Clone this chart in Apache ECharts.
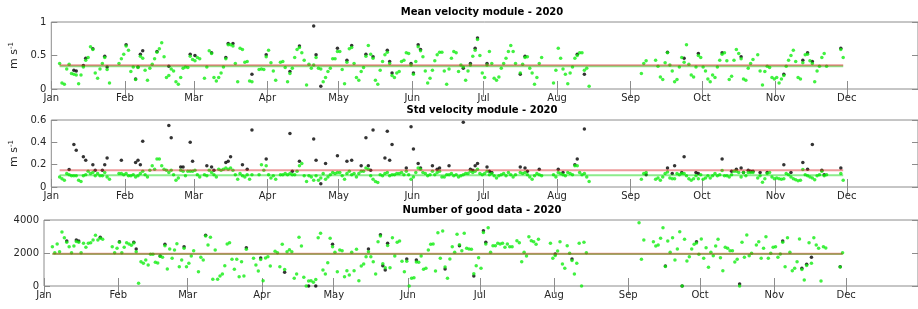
<!DOCTYPE html>
<html>
<head>
<meta charset="utf-8">
<script src="https://cdn.jsdelivr.net/npm/echarts@6/dist/echarts.min.js"></script>
<style>
  html, body { margin: 0; background: #fff; }
  #chart { width: 918px; height: 309px; }
</style>
</head>
<body>
<div id="chart"></div>
<script>
const monthNames = ['Jan', 'Feb', 'Mar', 'Apr', 'May', 'Jun', 'Jul', 'Aug', 'Sep', 'Oct', 'Nov', 'Dec']
const titles = ['Mean velocity module - 2020', 'Std velocity module - 2020', 'Number of good data - 2020']

// runs of consecutive days with data (day 0 = 1 Jan 2020)
const segments = [[3, 24], [28, 62], [64, 84], [87, 94], [96, 195], [197, 206], [211, 226], [248, 250], [254, 295], [297, 326], [332, 333]]

// good data, one value per day of the segments above
const meanGood = [
  .38, .09, .07, .30, .37, .23, .22, .21, .08, .21, .33, .43, .47, .63, .59, .24, .16, .30, .38, .47, .29, .09,
  .38, .45, .52, .64, .58, .26, .33, .14, .32, .49, .46, .28, .13, .31, .37, .45, .55, .60, .69, .48, .17, .20, .30, .27, .11, .07, .17, .31, .33, .32, .49, .44, .42, .47, .45,
  .16, .33, .57, .53, .17, .12, .17, .24, .33, .45, .66, .66, .64, .38, .11, .61, .59, .40, .41, .12, .11,
  .29, .30, .29, .48, .58, .39, .27, .13,
  .40, .41, .32, .11, .23, .31, .47, .59, .62, .54,
  .43, .06, .37, .31, .36, .47, .31, .30, .11, .17,
  .26, .31, .45, .45, .56, .56, .29, .08, .40, .60,
  .62, .38, .17, .13, .26, .32, .49, .65, .52, .46,
  .13, .07, .28, .41, .51, .55, .38, .20, .17, .24,
  .26, .41, .43, .54, .53, .36, .22, .41, .63, .57,
  .48, .27, .09, .16, .28, .42, .51, .55, .55, .27,
  .07, .30, .46, .56, .54, .26, .36, .33, .13, .27,
  .36, .49, .58, .74, .50, .24, .17, .36, .56, .38,
  .16, .13, .18, .31, .38, .46, .56, .65, .56, .38,
  .24, .37, .47, .48, .31, .24, .07, .17, .38, .47,
  .09, .28, .61, .46, .30, .22, .08, .24, .33, .46, .50, .54, .54, .28, .31, .04,
  .23, .38, .42,
  .43, .34, .18, .14, .39, .54, .36, .27, .11, .14,
  .33, .47, .40, .66, .37, .21, .18, .33, .50, .47,
  .33, .27, .15, .11, .21, .17, .33, .43, .52, .54,
  .42, .14, .19, .43, .59, .53, .45, .15, .13, .31,
  .38, .44,
  .51, .27, .06, .26, .34, .32, .17, .15, .17, .09,
  .15, .20, .34, .43, .50, .58, .41, .17, .15, .39,
  .51, .52, .42, .38, .11, .27, .34, .47, .53, .34,
  .59, .47
]
const stdGood = [
  .09, .075, .06, .12, .11, .10, .10, .10, .06, .05, .10, .11, .14, .12, .13, .10, .12, .10, .10, .13, .09, .07,
  .12, .12, .11, .12, .10, .10, .11, .09, .10, .12, .14, .11, .09, .15, .19, .16, .25, .25, .19, .16, .15, .13, .15, .11, .06, .08, .15, .14, .10, .14, .14, .14, .15, .11, .09,
  .11, .10, .15, .13, .11, .09, .16, .15, .16, .17, .16, .17, .15, .11, .07, .12, .10, .09, .11, .07, .11,
  .11, .20, .15, .19, .11, .08, .10, .07,
  .11, .11, .12, .11, .12, .11, .11, .14, .19, .21,
  .10, .05, .10, .09, .06, .10, .06, .08, .12, .07,
  .09, .11, .13, .12, .13, .13, .10, .07, .12, .14,
  .11, .12, .09, .12, .14, .14, .17, .16, .10, .07,
  .05, .04, .11, .10, .12, .13, .10, .11, .11, .12,
  .12, .13, .11, .14, .11, .07, .09, .13, .17, .16,
  .13, .12, .10, .11, .14, .11, .13, .14, .09, .09,
  .11, .11, .12, .10, .11, .09, .10, .11, .12, .12,
  .14, .13, .14, .16, .12, .11, .12, .14, .11, .12,
  .10, .08, .10, .11, .12, .10, .13, .11, .09, .11,
  .13, .12, .13, .11, .09, .07, .10, .12, .11, .10,
  .11, .09, .13, .12, .11, .10, .13, .12, .11, .19, .19, .13, .11, .12, .09, .05,
  .07, .12, .13,
  .07, .08, .06, .09, .12, .135, .08, .075, .075, .12,
  .11, .12, .12, .10, .075, .06, .075, .10, .075, .11,
  .07, .08, .10, .08, .10, .12, .10, .11, .147, .10,
  .10, .09, .11, .14, .14, .13, .09, .13, .10, .13,
  .13, .13,
  .08, .10, .042, .075, .12, .13, .09, .075, .08, .075,
  .07, .075, .12, .11, .09, .075, .066, .057, .06, .156,
  .11, .10, .09, .08, .066, .10, .11, .14, .10, .11,
  .12, .06
]
const countGood = [
  2384, 2020, 2545, 2080, 3272, 2929, 2646, 2384, 2020, 2424, 2700, 2650, 2020, 2586, 2343, 2586, 2626, 2788, 3070, 2788, 2900, 2828,
  2384, 2020, 2283, 2650, 2020, 2343, 2626, 2545, 2464, 2600, 2080, 162, 1475, 1374, 1576, 1273, 1919, 1919, 1434, 1394, 1800, 1737, 2444, 1030, 2242, 1677, 2182, 2565, 1172, 1576, 2283, 1172, 1374, 1818, 2141,
  869, 1737, 1576, 3030, 2485, 2949, 404, 2182, 404, 606, 727, 1232, 2545, 2626, 1616, 1010, 1616, 566, 1475, 606, 2222,
  1677, 1273, 909, 1600, 323, 1700, 1778, 1212,
  2100, 2020, 1172, 2525, 1000, 2080, 2200, 2080, 465, 727,
  2949, 2424, 525, 0, 300, 323, 222, 400, 2929, 3192,
  970, 727, 1414, 2889, 2384, 2040, 869, 2182, 2141, 566,
  929, 667, 2040, 929, 2222, 323, 1212, 1333, 1778, 2081,
  1778, 1475, 727, 2687, 3030, 1350, 1100, 2450, 1111, 2929,
  1818, 2646, 2727, 1500, 869, 1500, 0, 465, 505, 1450,
  1434, 1818, 1010, 1071, 2182, 2525, 2545, 909, 3232, 1677,
  3333, 1150, 465, 1636, 2384, 2040, 3131, 2500, 2141, 3192,
  2283, 2242, 2222, 750, 1232, 1717, 1071, 3250, 2550, 3535,
  2040, 2444, 2444, 2586, 2545, 2586, 2343, 2545, 2384, 2384,
  2747, 2626, 1475, 2040, 1818, 2990, 2747, 2687, 2525, 2828,
  2586, 1677, 1850, 2121, 2687, 1333, 1071, 2444, 1980, 1550, 727, 1374, 2586, 0, 2646, 2020,
  3838, 1616, 2788,
  2687, 2424, 2485, 2889, 3535, 1180, 2727, 2040, 2929, 1576,
  2242, 3293, 0, 2828, 1515, 1778, 2242, 2525, 2600, 1919,
  2848, 1677, 2323, 1131, 2040, 1838, 2424, 2828, 1717, 929,
  2343, 2283, 2141, 2141, 1454, 1616, 0, 2646, 1737, 3091,
  1838, 1980,
  2485, 2687, 1677, 2283, 2990, 1677, 1980, 2343, 2384, 1737,
  1939, 2650, 1172, 2929, 2040, 929, 1071, 1475, 2848, 1000,
  364, 1250, 2626, 1374, 2929, 2485, 2283, 303, 2384, 2300,
  1150, 2020
]

// all data: only the days where it differs from the good data, [day, value]
const meanAll = [[9, .28], [10, .27], [13, .35], [14, .46], [17, .60], [22, .49], [23, .33], [31, .66], [35, .15], [36, .33], [37, .52], [38, .57], [44, .56], [49, .34], [58, .52], [60, .50], [67, .54], [73, .47], [74, .68], [76, .68], [84, .22], [90, .51], [100, .26], [104, .64], [110, .94], [111, .51], [113, .04], [120, .61], [124, .43], [126, .65], [132, .52], [135, .48], [141, .58], [142, .41], [143, .24], [151, .38], [152, .24], [154, .66], [155, .59], [173, .31], [176, .38], [178, .61], [179, .76], [183, .38], [197, .22], [199, .49], [221, .52], [224, .22], [259, .55], [266, .46], [272, .53], [282, .54], [290, .48], [308, .22], [316, .43], [318, .54], [320, .41], [332, .61]]
const stdAll = [[7, .156], [9, .38], [10, .33], [13, .27], [14, .24], [17, .20], [18, .15], [21, .15], [22, .20], [23, .26], [29, .24], [35, .22], [36, .24], [37, .20], [38, .41], [49, .55], [50, .44], [54, .18], [55, .18], [58, .40], [59, .23], [65, .19], [67, .18], [68, .15], [73, .22], [74, .23], [75, .27], [80, .20], [82, .16], [84, .51], [90, .25], [100, .48], [101, .14], [104, .23], [110, .43], [111, .24], [113, .03], [115, .21], [120, .28], [124, .23], [126, .24], [130, .19], [132, .44], [133, .19], [134, .15], [135, .51], [140, .26], [141, .50], [142, .24], [143, .38], [149, .17], [151, .54], [152, .34], [154, .21], [155, .17], [160, .19], [162, .16], [163, .17], [167, .19], [173, .58], [176, .16], [177, .15], [178, .19], [179, .21], [183, .18], [184, .14], [185, .13], [197, .18], [199, .17], [200, .14], [205, .16], [213, .16], [215, .13], [220, .20], [221, .25], [224, .52], [250, .11], [259, .17], [261, .12], [262, .19], [265, .13], [266, .27], [271, .13], [272, .12], [282, .25], [286, .14], [288, .16], [290, .17], [291, .13], [293, .15], [294, .14], [295, .14], [298, .13], [301, .13], [308, .20], [311, .13], [316, .22], [318, .16], [320, .38], [324, .15], [325, .11], [332, .17]]
const countAll = [[9, 2727], [13, 2790], [14, 2727], [23, 2949], [31, 2687], [37, 2646], [38, 2242], [48, 1818], [50, 2525], [58, 2384], [67, 3070], [84, 2323], [90, 1700], [100, 828], [110, 0], [113, 0], [120, 2525], [135, 2242], [140, 3111], [141, 1232], [142, 970], [143, 2586], [151, 1636], [155, 1576], [167, 1030], [173, 2444], [179, 606], [183, 3353], [184, 2646], [213, 1939], [220, 1636], [259, 1212], [266, 0], [272, 2687], [290, 121], [308, 2727], [316, 1071], [318, 1313], [320, 1737], [332, 1172]]

// yearly averages: [all data, good data]
const meanAvg = [0.354, 0.338]
const stdAvg = [0.15, 0.105]
const countAvg = [1950, 1944]

const yMax = [1, 0.6, 4000]
const yStep = [0.5, 0.2, 2000]

const days = segments.flatMap(([a, b]) => Array.from({ length: b - a + 1 }, (_, i) => a + i))
const toTime = d => new Date(2020, 0, 1 + d, 12).getTime()
const xMin = new Date(2020, 0, 1).getTime()
const xMax = new Date(2020, 11, 31).getTime()
const firstDay = days[0]
const lastDay = days[days.length - 1]

const boxColor = '#8c8c8c'
const textColor = '#262626'
const font = 'DejaVu Sans'
const tops = [22, 120, 220]
const heights = [67, 67, 66]

const panels = [
  { good: meanGood, all: meanAll, avg: meanAvg },
  { good: stdGood, all: stdAll, avg: stdAvg },
  { good: countGood, all: countAll, avg: countAvg }
]

const xAxes = []
const yAxes = []
const series = []
panels.forEach((p, i) => {
  for (const pos of ['bottom', 'top']) {
    xAxes.push({
      type: 'time', gridIndex: i, position: pos, min: xMin, max: xMax, splitNumber: 12,
      axisLine: { show: false }, splitLine: { show: false },
      axisTick: { show: true, inside: true, length: 8, lineStyle: { color: boxColor } },
      axisLabel: pos === 'bottom'
        ? { show: true, formatter: v => monthNames[new Date(v).getMonth()], color: textColor, fontSize: 10, fontFamily: font, margin: 4 }
        : { show: false }
    })
  }
  for (const pos of ['left', 'right']) {
    yAxes.push({
      type: 'value', gridIndex: i, position: pos, min: 0, max: yMax[i], interval: yStep[i],
      axisLine: { show: false }, splitLine: { show: false },
      axisTick: { show: true, inside: true, length: 6, lineStyle: { color: boxColor } },
      axisLabel: pos === 'left'
        ? { show: true, formatter: v => String(v), color: textColor, fontSize: 10, fontFamily: font, margin: 5 }
        : { show: false },
      name: pos === 'left' && i < 2 ? '{a|m s}{b|-1}' : '',
      nameLocation: 'middle', nameRotate: 90, nameGap: 22,
      nameTextStyle: {
        rich: {
          a: { fontSize: 11, fontFamily: font, color: textColor, lineHeight: 12 },
          b: { fontSize: 7, fontFamily: font, color: textColor, verticalAlign: 'top', lineHeight: 12 }
        }
      }
    })
  }
  const ax = { xAxisIndex: i * 2, yAxisIndex: i * 2 }
  series.push({ type: 'scatter', ...ax, symbolSize: 3.5, itemStyle: { color: '#000' }, data: p.all.map(([d, v]) => [toTime(d), v]), z: 2 })
  series.push({ type: 'scatter', ...ax, symbolSize: 3.5, itemStyle: { color: '#11ee11' }, data: days.map((d, k) => [toTime(d), p.good[k]]), z: 3 })
  series.push({ type: 'line', ...ax, symbol: 'none', lineStyle: { color: 'rgba(0,210,0,0.45)', width: 2 }, data: [[toTime(firstDay), p.avg[1]], [toTime(lastDay), p.avg[1]]], z: 4 })
  series.push({ type: 'line', ...ax, symbol: 'none', lineStyle: { color: 'rgba(215,30,30,0.45)', width: 2 }, data: [[toTime(firstDay), p.avg[0]], [toTime(lastDay), p.avg[0]]], z: 4 })
})

const chart = echarts.init(document.getElementById('chart'))
chart.setOption({
  animation: false,
  title: titles.map((t, i) => ({
    text: t, left: 482, top: tops[i] - 15, textAlign: 'center', padding: 0,
    textStyle: { fontSize: 10, fontWeight: 'bold', color: '#000', fontFamily: font }
  })),
  grid: tops.map((t, i) => ({ left: 44, width: 877, top: t, height: heights[i], show: true, borderColor: boxColor, borderWidth: 1 })),
  xAxis: xAxes,
  yAxis: yAxes,
  series
})
</script>
</body>
</html>
